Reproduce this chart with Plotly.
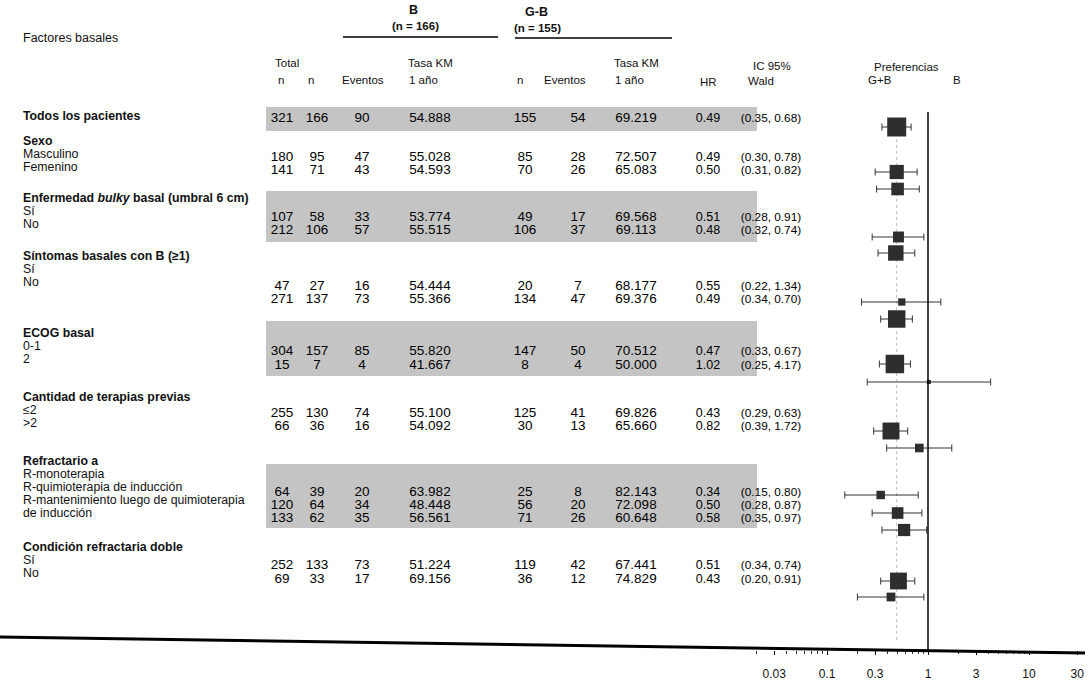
import numpy as np
import plotly.graph_objects as go

# ---------------- data ----------------
group_names = ["Todos los pacientes", "Sexo", "Enfermedad <i>bulky</i> basal (umbral 6 cm)",
               "Síntomas basales con B (≥1)", "ECOG basal", "Cantidad de terapias previas",
               "Refractario a", "Condición refractaria doble"]
sub_labels = [[], ["Masculino", "Femenino"], ["Sí", "No"], ["Sí", "No"], ["0-1", "2"],
              ["≤2", ">2"],
              ["R-monoterapia", "R-quimioterapia de inducción",
               "R-mantenimiento luego de quimioterapia", "de inducción"],
              ["Sí", "No"]]
total_n = [321, 180, 141, 107, 212, 47, 271, 304, 15, 255, 66, 64, 120, 133, 252, 69]
b_n = [166, 95, 71, 58, 106, 27, 137, 157, 7, 130, 36, 39, 64, 62, 133, 33]
b_events = [90, 47, 43, 33, 57, 16, 73, 85, 4, 74, 16, 20, 34, 35, 73, 17]
b_km = [54.888, 55.028, 54.593, 53.774, 55.515, 54.444, 55.366, 55.820, 41.667,
        55.100, 54.092, 63.982, 48.448, 56.561, 51.224, 69.156]
gb_n = [155, 85, 70, 49, 106, 20, 134, 147, 8, 125, 30, 25, 56, 71, 119, 36]
gb_events = [54, 28, 26, 17, 37, 7, 47, 50, 4, 41, 13, 8, 20, 26, 42, 12]
gb_km = [69.219, 72.507, 65.083, 69.568, 69.113, 68.177, 69.376, 70.512, 50.000,
         69.826, 65.660, 82.143, 72.098, 60.648, 67.441, 74.829]
hr = [0.49, 0.49, 0.50, 0.51, 0.48, 0.55, 0.49, 0.47, 1.02, 0.43, 0.82, 0.34, 0.50, 0.58, 0.51, 0.43]
ci_low = [0.35, 0.30, 0.31, 0.28, 0.32, 0.22, 0.34, 0.33, 0.25, 0.29, 0.39, 0.15, 0.28, 0.35, 0.34, 0.20]
ci_high = [0.68, 0.78, 0.82, 0.91, 0.74, 1.34, 0.70, 0.67, 4.17, 0.63, 1.72, 0.80, 0.87, 0.97, 0.74, 0.91]
tick_vals = [0.03, 0.1, 0.3, 1, 3, 10, 30]
tick_text = ["0.03", "0.1", "0.3", "1", "3", "10", "30"]

# ---------------- layout (pixel positions, y from top) ----------------
W, H = 1092, 685
row_y = [119, 158, 171, 218, 231, 287, 300, 352, 366, 414, 427, 493, 506, 519, 566, 580]
forest_y = [127, 172, 189, 237, 253, 302, 319, 364, 382, 431, 448, 495, 513, 530, 581, 597]
header_y = [116, 141, 198, 256, 333, 397, 461, 547]
label_pitch = 12.9
shaded = [(107, 131), (191, 242), (321, 376), (464, 528)]
AXIS_Y = 650

FONT = "Arial, Liberation Sans, sans-serif"
fig = go.Figure()

# table columns as text traces: (x centre, texts, font size)
cols = [
    (282, [str(v) for v in total_n], 13.5),
    (317, [str(v) for v in b_n], 13.5),
    (362, [str(v) for v in b_events], 13.5),
    (430, [f"{v:.3f}" for v in b_km], 13.5),
    (525, [str(v) for v in gb_n], 13.5),
    (578, [str(v) for v in gb_events], 13.5),
    (636, [f"{v:.3f}" for v in gb_km], 13.5),
    (708, [f"{v:.2f}" for v in hr], 12.5),
    (771, [f"({a:.2f}, {b:.2f})" for a, b in zip(ci_low, ci_high)], 11.8),
]
for cx, txt_list, fs in cols:
    fig.add_trace(go.Scatter(x=[cx] * len(txt_list), y=row_y, text=txt_list, mode="text",
                             textfont=dict(family=FONT, size=fs, color="#000"),
                             textposition="middle center", hoverinfo="skip",
                             cliponaxis=False, xaxis="x", yaxis="y"))

# forest plot
sizes = [max(3.5, 19 * np.sqrt(n / total_n[0])) for n in total_n]
fig.add_trace(go.Scatter(
    x=hr, y=forest_y, mode="markers", xaxis="x2", yaxis="y2",
    marker=dict(symbol="square", size=sizes, color="#2e2e2e", opacity=1, line=dict(width=0)),
    error_x=dict(type="data", symmetric=False,
                 array=[h - m for h, m in zip(ci_high, hr)],
                 arrayminus=[m - l for m, l in zip(hr, ci_low)],
                 thickness=1, width=3.5, color="#333"),
    hoverinfo="skip"))

shapes = []
for y0, y1 in shaded:
    shapes.append(dict(type="rect", xref="x", yref="y", x0=266, x1=757, y0=y0, y1=y1,
                       fillcolor="#c4c4c4", line=dict(width=0), layer="below"))
# group underlines
shapes.append(dict(type="line", xref="x", yref="y", x0=343, x1=498, y0=37, y1=37,
                   line=dict(color="black", width=1.5)))
shapes.append(dict(type="line", xref="x", yref="y", x0=515, x1=672, y0=38, y1=38,
                   line=dict(color="black", width=1.5)))
# reference line at HR = 1
shapes.append(dict(type="line", xref="x2", yref="paper", x0=1, x1=1,
                   y0=1 - AXIS_Y / H, y1=1 - 112 / H, line=dict(color="black", width=1.5)))
# faint dotted line at overall HR
shapes.append(dict(type="line", xref="x2", yref="paper", x0=hr[0], x1=hr[0],
                   y0=1 - 640 / H, y1=1 - 135 / H, line=dict(color="#bdbdbd", width=1, dash="dot"),
                   layer="below"))
# (slightly skewed) bottom axis line
shapes.append(dict(type="line", xref="paper", yref="paper", x0=0, x1=1085 / W,
                   y0=1 - 637 / H, y1=1 - 653 / H, line=dict(color="black", width=3)))

ann = []
def txt(x, y, s, size=11, xanchor="center", bold=False):
    if bold:
        s = f"<b>{s}</b>"
    ann.append(dict(x=x, y=y, xref="x", yref="y", text=s, showarrow=False,
                    xanchor=xanchor, yanchor="middle",
                    font=dict(family=FONT, size=size, color="#111")))

# left labels
for gi, (g, subs) in enumerate(zip(group_names, sub_labels)):
    y = header_y[gi]
    txt(21, y, g, size=12.3, xanchor="left", bold=True)
    for k, s in enumerate(subs):
        txt(21, y + label_pitch * (k + 1), s, size=12.3, xanchor="left")

# column headers
txt(21, 38, "Factores basales", size=12.5, xanchor="left")
txt(413, 10, "B", size=12.5, bold=True)
txt(415, 26, "(n = 166)", size=11.5, bold=True)
txt(536, 12, "G-B", size=12.5, bold=True)
txt(537, 28, "(n = 155)", size=11.5, bold=True)
txt(273, 63, "Total", size=11.5, xanchor="left")
txt(281, 80, "n", size=11.5)
txt(311, 80, "n", size=11.5)
txt(363, 80, "Eventos", size=11.5)
txt(430, 63, "Tasa KM", size=11.5)
txt(423, 80, "1 año", size=11.5)
txt(520, 80, "n", size=11.5)
txt(565, 80, "Eventos", size=11.5)
txt(636, 63, "Tasa KM", size=11.5)
txt(629, 80, "1 año", size=11.5)
txt(708, 82, "HR", size=11.5)
txt(772, 66, "IC 95%", size=11.5)
txt(761, 81, "Wald", size=11.5)
txt(906, 67, "Preferencias", size=11.5)
txt(880, 80, "G+B", size=11.5)
txt(957, 80, "B", size=11.5)

# forest axis: x_px = 928 + 101*log10(v)
fx0, fx1 = 700, 1088
lo = (fx0 - 928) / 101
hi = (fx1 - 928) / 101
minor_vals = [v * 10.0 ** e for e in (-2, -1, 0, 1) for v in range(1, 10)]
minor_vals = [v for v in minor_vals if 0.015 < v <= 30 and v not in tick_vals]

fig.update_layout(
    width=W, height=H, margin=dict(l=0, r=0, t=0, b=0),
    paper_bgcolor="white", plot_bgcolor="rgba(0,0,0,0)", showlegend=False,
    xaxis=dict(domain=[0, 1], range=[0, W], visible=False, fixedrange=True),
    yaxis=dict(domain=[0, 1], range=[H, 0], visible=False, fixedrange=True),
    xaxis2=dict(domain=[fx0 / W, fx1 / W], type="log", range=[lo, hi], anchor="y2",
                tickmode="array", tickvals=tick_vals, ticktext=tick_text,
                ticks="outside", ticklen=4, tickcolor="black", tickwidth=1,
                minor=dict(tickmode="array", tickvals=minor_vals, ticks="outside",
                           ticklen=3, tickcolor="#333", showgrid=False),
                showgrid=False, zeroline=False, showline=False,
                ticklabelstandoff=9, fixedrange=True,
                tickfont=dict(family=FONT, size=12, color="#111")),
    yaxis2=dict(domain=[1 - AXIS_Y / H, 1], range=[AXIS_Y, 0], visible=False, fixedrange=True),
    shapes=shapes, annotations=ann,
)

fig.write_html("out.html", config={"displayModeBar": False},
               post_script="document.body.style.margin='0';document.body.style.overflow='hidden';")
